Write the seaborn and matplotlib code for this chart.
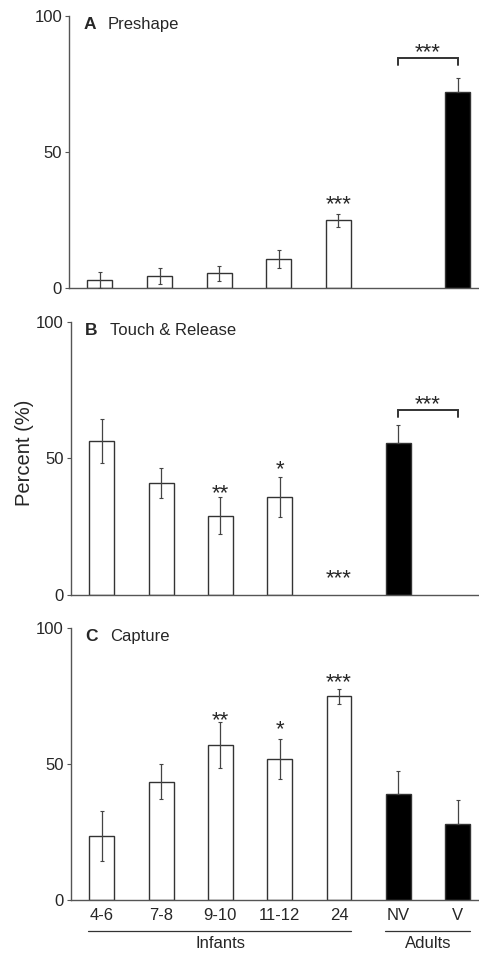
"""Grouped bar panels: preshape, touch & release, capture by age group."""
import matplotlib
matplotlib.use("Agg")
import matplotlib.pyplot as plt
import numpy as np
import pandas as pd
import seaborn as sns

GROUPS = ["4-6", "7-8", "9-10", "11-12", "24", "NV", "V"]
ADULTS = ["NV", "V"]

PRESHAPE = [3.0, 4.3, 5.4, 10.7, 24.9, np.nan, 72.0]
PRESHAPE_ERR = [3.0, 3.0, 2.8, 3.3, 2.5, np.nan, 5.4]
TOUCH = [56.3, 41.1, 28.9, 35.8, 0.0, 55.6, np.nan]
TOUCH_ERR = [8.0, 5.5, 6.8, 7.4, 0.0, 6.7, np.nan]
CAPTURE = [23.6, 43.5, 56.9, 51.9, 75.0, 39.0, 27.9]
CAPTURE_ERR = [9.3, 6.4, 8.5, 7.4, 2.8, 8.6, 8.8]

PANELS = [
    ("A", "Preshape", PRESHAPE, PRESHAPE_ERR,
     [("24", 33, "***")], ("NV", "V", 84.7, "***")),
    ("B", "Touch & Release", TOUCH, TOUCH_ERR,
     [("9-10", 39.2, "**"), ("11-12", 48, "*"), ("24", 8, "***")],
     ("NV", "V", 67.7, "***")),
    ("C", "Capture", CAPTURE, CAPTURE_ERR,
     [("9-10", 68.3, "**"), ("11-12", 64.8, "*"), ("24", 82, "***")], None),
]

# axes rectangles in figure fraction (left, bottom, width, height)
RECTS = [
    (0.144, 0.6984, 0.856, 0.2848),
    (0.148, 0.3773, 0.852, 0.2855),
    (0.148, 0.0576, 0.852, 0.2845),
]

sns.set_style("ticks")
plt.rcParams["font.family"] = ["Liberation Sans", "DejaVu Sans"]

fig = plt.figure(figsize=(4.79, 9.55), dpi=100)
palette = {g: ("black" if g in ADULTS else "white") for g in GROUPS}
spine_col = "#555555"


def star(ax, x, y, s):
    # asterisks sit high in the glyph box, so nudge down to centre them on y
    ax.text(x, y - 2.2, s, ha="center", va="center", fontsize=16)


for rect, (letter, title, vals, errs, stars, bracket) in zip(RECTS, PANELS):
    ax = fig.add_axes(rect)
    df = pd.DataFrame({"group": GROUPS, "value": vals, "err": errs}).dropna()
    df = df[df["value"] > 0]
    sns.barplot(data=df, x="group", y="value", hue="group", order=GROUPS,
                hue_order=GROUPS, palette=palette, width=0.42, errorbar=None,
                edgecolor="#333333", linewidth=1.0, legend=False, ax=ax)

    pos = [GROUPS.index(g) for g in df["group"]]
    lower = [0 if g in ADULTS else e for g, e in zip(df["group"], df["err"])]
    ax.errorbar(pos, df["value"], yerr=[lower, df["err"]],
                fmt="none", ecolor="#444444", elinewidth=0.9, capsize=1.5,
                capthick=0.8, zorder=3)

    for g, y, s in stars:
        star(ax, GROUPS.index(g), y, s)
    if bracket:
        g1, g2, y, s = bracket
        x1, x2 = GROUPS.index(g1), GROUPS.index(g2)
        ax.plot([x1, x1, x2, x2], [y - 2.7, y, y, y - 2.7], color="#333333",
                lw=1.4, solid_joinstyle="miter")
        star(ax, (x1 + x2) / 2, y + 4, s)

    ax.text(0.035, 0.97, letter, transform=ax.transAxes, fontsize=12.5,
            fontweight="bold", va="center", ha="left")
    ax.text(0.095, 0.97, title, transform=ax.transAxes, fontsize=12,
            va="center", ha="left")

    ax.set_xlim(-0.52, 6.36)
    ax.set_ylim(0, 100)
    ax.set_yticks([0, 50, 100])
    ax.set_xlabel("")
    ax.set_ylabel("")
    sns.despine(ax=ax)
    for sp in ("left", "bottom"):
        ax.spines[sp].set_color(spine_col)
        ax.spines[sp].set_linewidth(1.0)
    ax.tick_params(axis="y", length=3, width=0.8, color=spine_col,
                   labelsize=12, pad=2)
    ax.tick_params(axis="x", length=0, labelsize=12, pad=6)
    if letter != "C":
        ax.set_xticklabels([])
    else:
        for (a, b, lab) in [(0, 4, "Infants"), (5, 6, "Adults")]:
            ax.plot([a - 0.23, b + 0.2], [-0.114, -0.114], color="#333333",
                    lw=0.9, transform=ax.get_xaxis_transform(), clip_on=False)
            ax.text((a + b) / 2, -0.16, lab, ha="center", va="center",
                    fontsize=12, transform=ax.get_xaxis_transform())

fig.text(0.052, 0.526, "Percent (%)", rotation=90, ha="center", va="center",
         fontsize=14.5)

fig.savefig("out.png", dpi=100)
